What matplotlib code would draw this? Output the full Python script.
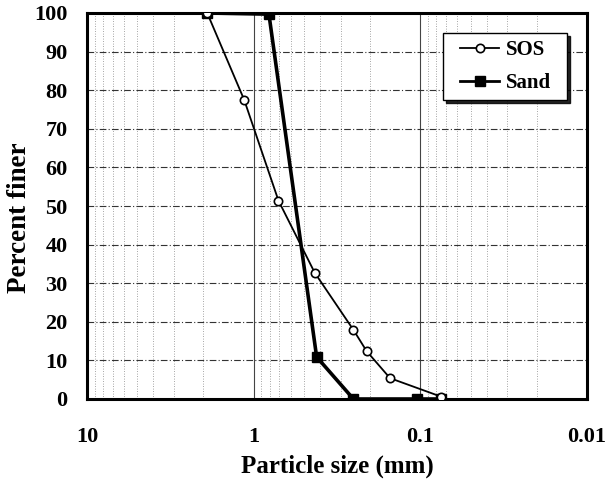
import matplotlib.pyplot as plt
import numpy as np
from matplotlib.ticker import FixedLocator, NullFormatter

# grain size distributions (size in mm, percent finer)
sos_size = [1.9, 1.14, 0.71, 0.43, 0.252, 0.21, 0.152, 0.075]
sos_finer = [100, 77.5, 51.4, 32.7, 17.9, 12.4, 5.4, 0.6]

sand_size = [1.9, 0.81, 0.419, 0.252, 0.105, 0.075]
sand_finer = [100, 99.7, 10.9, 0, 0, 0]

x_ticks = [10, 1, 0.1, 0.01]
x_labels = ["10", "1", "0.1", "0.01"]
y_ticks = list(range(0, 101, 10))

plt.rcParams['font.family'] = ['Liberation Serif', 'DejaVu Serif']
plt.rcParams['font.weight'] = 'bold'

fig = plt.figure(figsize=(6.06, 4.82), dpi=100)
ax = fig.add_axes([87 / 606, 1 - 399 / 482, 500 / 606, 386 / 482])

ax.plot(sos_size, sos_finer, color='black', lw=1.3, marker='o', ms=6,
        mfc='white', mec='black', mew=1.2, label='SOS', zorder=4)
ax.plot(sand_size, sand_finer, color='black', lw=2.6, marker='s', ms=6.5,
        mfc='black', mec='black', label='Sand', zorder=3)

ax.set_xscale('log')
ax.set_xlim(10, 0.01)
ax.set_ylim(0, 100)

ax.xaxis.set_major_locator(FixedLocator(x_ticks))
ax.set_xticklabels(x_labels)
minor = [m * 10.0 ** e for e in (-2, -1, 0) for m in range(2, 10)]
ax.xaxis.set_minor_locator(FixedLocator(minor))
ax.xaxis.set_minor_formatter(NullFormatter())
ax.set_yticks(y_ticks)

ax.tick_params(axis='both', which='both', length=0, labelsize=16)
ax.tick_params(axis='y', pad=14)
ax.tick_params(axis='x', pad=20)
for lab in ax.get_xticklabels() + ax.get_yticklabels():
    lab.set_fontweight('bold')

# grid lines
ax.grid(axis='y', which='major', color='#333333', lw=0.8, ls=(0, (6, 2, 1, 2)))
ax.grid(axis='x', which='major', color='#444444', lw=0.8, ls='-')
ax.grid(axis='x', which='minor', color='#888888', lw=0.6, ls=(0, (1, 2)))
ax.set_axisbelow(True)

for sp in ax.spines.values():
    sp.set_linewidth(2.2)

ax.set_xlabel("Particle size (mm)", fontsize=18, fontweight='bold')
ax.xaxis.set_label_coords(0.5, -0.174)
ax.xaxis.label.set_verticalalignment('center')
ax.set_ylabel("Percent finer", fontsize=19.5, fontweight='bold')
ax.yaxis.set_label_coords(-0.134, 0.47)
ax.yaxis.label.set_verticalalignment('center')

leg = ax.legend(loc='upper right', bbox_to_anchor=(0.942, 0.948),
                prop={'size': 15, 'weight': 'bold'},
                frameon=True, fancybox=False,
                shadow={'ox': 2, 'oy': -2, 'color': 'black', 'alpha': 0.85},
                borderpad=0.35, labelspacing=0.6, handlelength=1.9,
                handletextpad=0.3, borderaxespad=0)
frame = leg.get_frame()
frame.set_edgecolor('black')
frame.set_linewidth(1.0)
# widen the box sideways only
frame.set_boxstyle('square', pad=0.45)
frame.set_mutation_aspect(0.02)
for line in leg.get_lines():
    line.set_linewidth(1.3 if line.get_label() == 'SOS' else 2.0)

fig.savefig('out.png', dpi=100)
